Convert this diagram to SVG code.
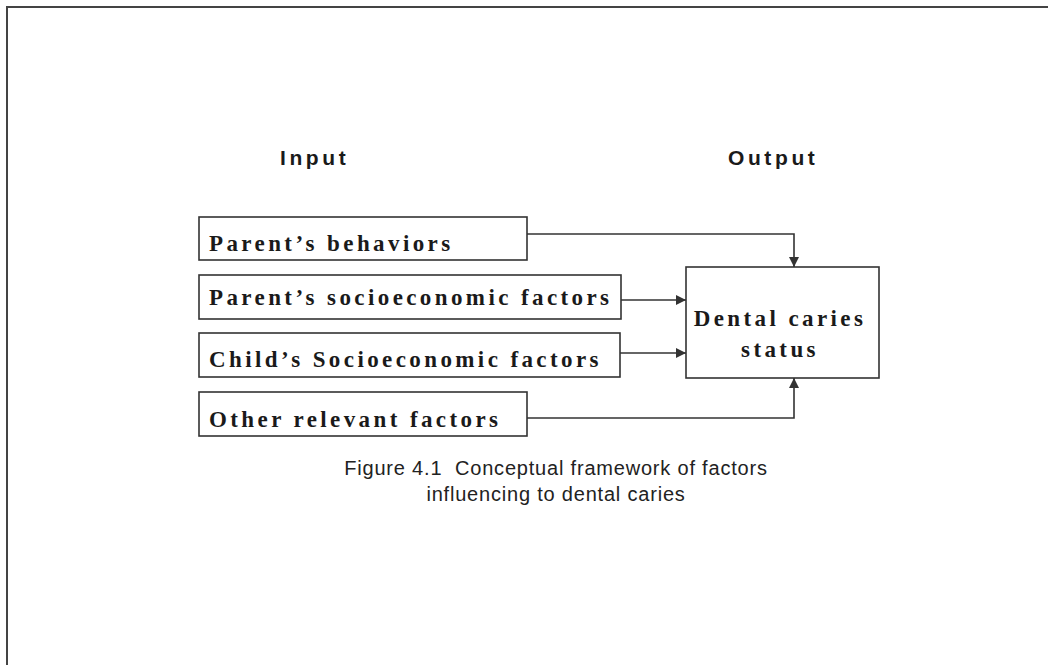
<svg xmlns="http://www.w3.org/2000/svg" width="1048" height="665" viewBox="0 0 1048 665">
<style>
.box{fill:#fff;stroke:#333;stroke-width:1.6}
.lbl{font-family:"Liberation Serif","Times New Roman",serif;font-weight:bold;font-size:23px;letter-spacing:3.4px;fill:#1a1a1a}
.hdr{font-family:"Liberation Sans",Arial,sans-serif;font-weight:bold;font-size:21px;letter-spacing:3.6px;fill:#1a1a1a}
.cap{font-family:"Liberation Sans",Arial,sans-serif;font-size:20px;letter-spacing:0.8px;fill:#222}
.con{fill:none;stroke:#333;stroke-width:1.6}
</style>
<defs>
<marker id="arr" viewBox="0 0 10 10" refX="10" refY="5" markerWidth="10" markerHeight="10" markerUnits="userSpaceOnUse" orient="auto">
<path d="M0,0 L10,5 L0,10 Z" fill="#333"/>
</marker>
</defs>
<rect width="1048" height="665" fill="#fff"/>
<g id="frame">
<path d="M7,665 L7,7 L1048,7" fill="none" stroke="#444" stroke-width="2"/>
</g>
<g id="headers">
<text class="hdr" x="280" y="165">Input</text>
<text class="hdr" x="728" y="165">Output</text>
</g>
<g id="n1"><rect class="box" x="199" y="217" width="328" height="43"/><text class="lbl" x="209" y="251">Parent’s behaviors</text></g>
<g id="n2"><rect class="box" x="199" y="275" width="422" height="44"/><text class="lbl" x="209" y="305">Parent’s socioeconomic factors</text></g>
<g id="n3"><rect class="box" x="199" y="333" width="421" height="44"/><text class="lbl" x="209" y="367">Child’s Socioeconomic factors</text></g>
<g id="n4"><rect class="box" x="199" y="392" width="328" height="44"/><text class="lbl" x="209" y="427">Other relevant factors</text></g>
<g id="out"><rect class="box" x="686" y="267" width="193" height="111"/>
<text class="lbl" x="780" y="326" text-anchor="middle">Dental caries</text>
<text class="lbl" x="780" y="357" text-anchor="middle">status</text></g>
<g id="connectors">
<path class="con" d="M527,234 L794,234 L794,267" marker-end="url(#arr)"/>
<path class="con" d="M621,300 L686,300" marker-end="url(#arr)"/>
<path class="con" d="M620,353 L686,353" marker-end="url(#arr)"/>
<path class="con" d="M527,418 L794,418 L794,378" marker-end="url(#arr)"/>
</g>
<g id="caption">
<text class="cap" x="556" y="475" text-anchor="middle">Figure 4.1&#160; Conceptual framework of factors</text>
<text class="cap" x="556" y="501" text-anchor="middle">influencing to dental caries</text>
</g>
</svg>
